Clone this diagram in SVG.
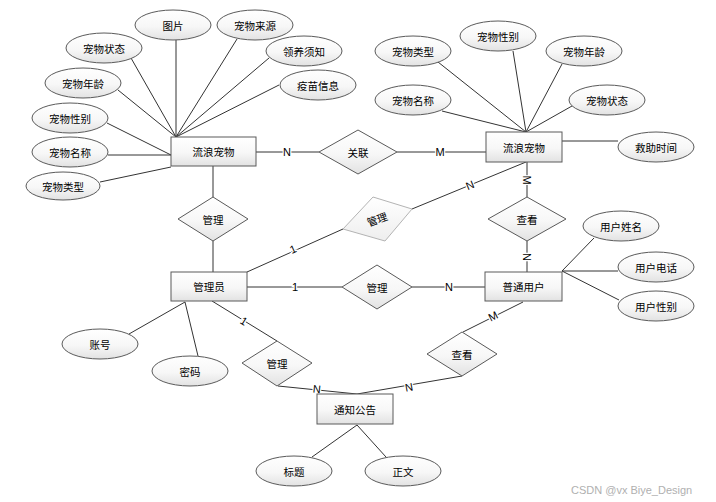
<svg xmlns="http://www.w3.org/2000/svg" width="716" height="502" viewBox="0 0 716 502">
<defs>
<linearGradient id="g" x1="0" y1="0" x2="0" y2="1">
<stop offset="0" stop-color="#ffffff"/>
<stop offset="0.55" stop-color="#f7f7f7"/>
<stop offset="1" stop-color="#e2e2e2"/>
</linearGradient>
<linearGradient id="gl" x1="0" y1="0" x2="0" y2="1">
<stop offset="0" stop-color="#ffffff"/>
<stop offset="1" stop-color="#eeeeee"/>
</linearGradient>
</defs>
<style>
.e{fill:url(#g);stroke:#5a5a5a;stroke-width:1}
.r{fill:url(#g);stroke:#5a5a5a;stroke-width:1}
.sh{fill:#c8c8c8;stroke:none}
.d{fill:url(#g);stroke:#5a5a5a;stroke-width:1}
.dl{fill:url(#gl);stroke:#b4b4b4;stroke-width:1}
.t{font-family:"Noto Sans CJK SC","Noto Sans",sans-serif;font-size:10.5px;fill:#000;text-anchor:middle;dominant-baseline:central}
.l{font-family:"Liberation Sans",Arial,sans-serif;font-size:11px;fill:#000;text-anchor:middle;dominant-baseline:central;stroke:#fff;stroke-width:2.5;paint-order:stroke}
.c line{stroke:#333;stroke-width:1}
.wm{font-family:"Liberation Sans",Arial,sans-serif;font-size:11px;fill:#b0b0b0}
</style>
<rect width="716" height="502" fill="#fff"/>
<g id="connectors" class="c">
<line x1="176" y1="40" x2="176" y2="137"/>
<line x1="237" y1="39" x2="176" y2="137"/>
<line x1="131" y1="58" x2="176" y2="137"/>
<line x1="269" y1="58" x2="176" y2="137"/>
<line x1="118" y1="90" x2="176" y2="137"/>
<line x1="279" y1="85" x2="176" y2="137"/>
<line x1="107" y1="123" x2="171" y2="155"/>
<line x1="108" y1="155" x2="171" y2="155"/>
<line x1="100" y1="182" x2="171" y2="167"/>
<line x1="438" y1="62" x2="526" y2="132"/>
<line x1="513" y1="51" x2="526" y2="132"/>
<line x1="562" y1="64" x2="526" y2="132"/>
<line x1="442" y1="111" x2="526" y2="132"/>
<line x1="572" y1="106" x2="526" y2="132"/>
<line x1="562" y1="141" x2="618" y2="141"/>
<line x1="594" y1="238" x2="562" y2="271"/>
<line x1="618" y1="271" x2="562" y2="271"/>
<line x1="619" y1="300" x2="562" y2="271"/>
<line x1="129" y1="334" x2="185" y2="302"/>
<line x1="198" y1="356" x2="185" y2="302"/>
<line x1="312" y1="457" x2="357" y2="425"/>
<line x1="386" y1="457" x2="357" y2="425"/>
<line x1="256" y1="152" x2="319" y2="152"/>
<line x1="397" y1="152" x2="486" y2="152"/>
<line x1="213" y1="166" x2="213" y2="197"/>
<line x1="213" y1="241" x2="213" y2="272"/>
<line x1="247" y1="272" x2="343" y2="229"/>
<line x1="412" y1="209" x2="526" y2="162"/>
<line x1="247" y1="287" x2="342" y2="287"/>
<line x1="412" y1="287" x2="485" y2="287"/>
<line x1="527" y1="162" x2="527" y2="197"/>
<line x1="527" y1="241" x2="527" y2="272"/>
<line x1="212" y1="301" x2="277" y2="341"/>
<line x1="278" y1="386" x2="357" y2="394"/>
<line x1="462" y1="376" x2="357" y2="394"/>
<line x1="463" y1="332" x2="523" y2="302"/>
</g>
<g id="labels">
<text class="l" x="287" y="152">N</text>
<text class="l" x="440" y="152">M</text>
<text class="l" x="293" y="249" transform="rotate(-24 293 249)">1</text>
<text class="l" x="470" y="185" transform="rotate(-22 470 185)">N</text>
<text class="l" x="295" y="287">1</text>
<text class="l" x="449" y="287">N</text>
<text class="l" x="527" y="180" transform="rotate(90 527 180)">M</text>
<text class="l" x="527" y="257" transform="rotate(90 527 257)">N</text>
<text class="l" x="244" y="321" transform="rotate(32 244 321)">1</text>
<text class="l" x="317" y="389" transform="rotate(6 317 389)">N</text>
<text class="l" x="409" y="387" transform="rotate(-10 409 387)">N</text>
<text class="l" x="493" y="316" transform="rotate(-27 493 316)">M</text>
</g>
<g id="pet-left">
<rect class="r" x="171" y="137" width="85" height="29"/>
<text class="t" x="213.5" y="151.5">流浪宠物</text>
</g>
<g id="pet-right">
<rect class="r" x="486" y="132" width="76" height="30"/>
<text class="t" x="524" y="147">流浪宠物</text>
</g>
<g id="admin">
<rect class="r" x="171" y="272" width="76" height="29"/>
<text class="t" x="209" y="286.5">管理员</text>
</g>
<g id="user">
<rect class="r" x="485" y="272" width="77" height="29"/>
<text class="t" x="523.5" y="286.5">普通用户</text>
</g>
<g id="notice">
<rect class="r" x="317" y="394" width="76" height="30"/>
<text class="t" x="355" y="409">通知公告</text>
</g>
<g id="rel-guanlian">
<polygon class="d" points="319,152 358,130 397,152 358,174"/>
<text class="t" x="358" y="152">关联</text>
</g>
<g id="rel-manage-pet">
<polygon class="d" points="178,219 213,197 248,219 213,241"/>
<text class="t" x="213" y="219">管理</text>
</g>
<g id="rel-manage-pet2">
<polygon class="dl" points="343,229 373,197 412,209 385,241"/>
<text class="t" x="377" y="219" transform="rotate(-20 377 219)" fill="#333">管理</text>
</g>
<g id="rel-manage-user">
<polygon class="d" points="342,287 377,265 412,287 377,309"/>
<text class="t" x="377" y="287">管理</text>
</g>
<g id="rel-view-pet">
<polygon class="d" points="488,219 527,197 566,219 527,241"/>
<text class="t" x="527" y="219">查看</text>
</g>
<g id="rel-manage-notice">
<polygon class="d" points="242,363 277,341 312,363 277,386"/>
<text class="t" x="277" y="363">管理</text>
</g>
<g id="rel-view-notice">
<polygon class="d" points="427,354 462,332 497,354 462,376"/>
<text class="t" x="462" y="354">查看</text>
</g>
<g id="attr-l-pic"><ellipse class="e" cx="173" cy="25" rx="38" ry="15"/><text class="t" x="173" y="25">图片</text></g>
<g id="attr-l-source"><ellipse class="e" cx="255" cy="25" rx="38" ry="15"/><text class="t" x="255" y="25">宠物来源</text></g>
<g id="attr-l-status"><ellipse class="e" cx="104" cy="48" rx="38" ry="15"/><text class="t" x="104" y="48">宠物状态</text></g>
<g id="attr-l-adopt"><ellipse class="e" cx="304" cy="51" rx="38" ry="15"/><text class="t" x="304" y="51">领养须知</text></g>
<g id="attr-l-age"><ellipse class="e" cx="83" cy="83" rx="38" ry="15"/><text class="t" x="83" y="83">宠物年龄</text></g>
<g id="attr-l-vaccine"><ellipse class="e" cx="318" cy="85" rx="38" ry="15"/><text class="t" x="318" y="85">疫苗信息</text></g>
<g id="attr-l-sex"><ellipse class="e" cx="70" cy="118" rx="38" ry="15"/><text class="t" x="70" y="118">宠物性别</text></g>
<g id="attr-l-name"><ellipse class="e" cx="70" cy="152" rx="38" ry="15"/><text class="t" x="70" y="152">宠物名称</text></g>
<g id="attr-l-type"><ellipse class="e" cx="63" cy="186" rx="37" ry="14"/><text class="t" x="63" y="186">宠物类型</text></g>
<g id="attr-r-type"><ellipse class="e" cx="413" cy="51" rx="38" ry="15"/><text class="t" x="413" y="51">宠物类型</text></g>
<g id="attr-r-sex"><ellipse class="e" cx="498" cy="36" rx="38" ry="15"/><text class="t" x="498" y="36">宠物性别</text></g>
<g id="attr-r-age"><ellipse class="e" cx="584" cy="51" rx="38" ry="15"/><text class="t" x="584" y="51">宠物年龄</text></g>
<g id="attr-r-name"><ellipse class="e" cx="413" cy="100" rx="38" ry="15"/><text class="t" x="413" y="100">宠物名称</text></g>
<g id="attr-r-status"><ellipse class="e" cx="607" cy="100" rx="38" ry="15"/><text class="t" x="607" y="100">宠物状态</text></g>
<g id="attr-r-rescue"><ellipse class="e" cx="656" cy="147" rx="38" ry="15"/><text class="t" x="656" y="147">救助时间</text></g>
<g id="attr-u-name"><ellipse class="e" cx="621" cy="226" rx="38" ry="15"/><text class="t" x="621" y="226">用户姓名</text></g>
<g id="attr-u-phone"><ellipse class="e" cx="656" cy="267" rx="38" ry="15"/><text class="t" x="656" y="267">用户电话</text></g>
<g id="attr-u-sex"><ellipse class="e" cx="656" cy="306" rx="38" ry="15"/><text class="t" x="656" y="306">用户性别</text></g>
<g id="attr-a-account"><ellipse class="e" cx="100" cy="344" rx="38" ry="15"/><text class="t" x="100" y="344">账号</text></g>
<g id="attr-a-pwd"><ellipse class="e" cx="190" cy="371" rx="38" ry="15"/><text class="t" x="190" y="371">密码</text></g>
<g id="attr-n-title"><ellipse class="e" cx="294" cy="471" rx="38" ry="15"/><text class="t" x="294" y="471">标题</text></g>
<g id="attr-n-body"><ellipse class="e" cx="403" cy="471" rx="38" ry="15"/><text class="t" x="403" y="471">正文</text></g>
<text class="wm" x="571" y="494">CSDN @vx Biye_Design</text>
</svg>
